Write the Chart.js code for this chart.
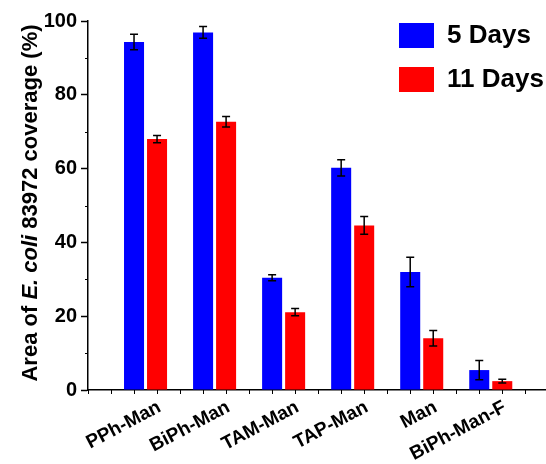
<!DOCTYPE html>
<html>
<head>
<meta charset="utf-8">
<script src="https://cdn.jsdelivr.net/npm/chart.js@4"></script>
<style>
  html, body { margin: 0; padding: 0; background: #fff; }
</style>
</head>
<body>
<canvas id="chart" width="546" height="464"></canvas>
<script>
const categories = ['PPh-Man', 'BiPh-Man', 'TAM-Man', 'TAP-Man', 'Man', 'BiPh-Man-F'];
const fiveDays = [94.3, 96.9, 30.4, 60.2, 32.0, 5.4];
const fiveDaysErr = [2.1, 1.6, 0.8, 2.2, 4.0, 2.6];
const elevenDays = [68.0, 72.7, 21.1, 44.6, 14.0, 2.4];
const elevenDaysErr = [1.0, 1.4, 1.0, 2.4, 2.1, 0.5];
const seriesLabels = ['5 Days', '11 Days'];
const seriesColors = ['#0000ff', '#ff0000'];

const FONT = "'Liberation Sans', Arial, sans-serif";

// error bars drawn on top of each bar
const errorBars = {
    id: 'errorBars',
    afterDatasetsDraw(chart) {
        const ctx = chart.ctx;
        const y = chart.scales.y;
        ctx.save();
        ctx.strokeStyle = '#000';
        ctx.lineWidth = 1.5;
        chart.data.datasets.forEach((ds, i) => {
            const meta = chart.getDatasetMeta(i);
            meta.data.forEach((bar, j) => {
                const v = ds.data[j].y;
                const e = ds.errors[j];
                const top = y.getPixelForValue(v + e);
                const bot = y.getPixelForValue(v - e);
                ctx.beginPath();
                ctx.moveTo(bar.x, top); ctx.lineTo(bar.x, bot);
                ctx.moveTo(bar.x - 4, top); ctx.lineTo(bar.x + 4, top);
                ctx.moveTo(bar.x - 4, bot); ctx.lineTo(bar.x + 4, bot);
                ctx.stroke();
            });
        });
        ctx.restore();
    }
};

// small tick marks on both axes
const minorTicks = {
    id: 'minorTicks',
    afterDraw(chart) {
        const ctx = chart.ctx;
        const x = chart.scales.x, y = chart.scales.y;
        const area = chart.chartArea;
        ctx.save();
        ctx.strokeStyle = '#000';
        ctx.lineWidth = 1;
        ctx.beginPath();
        for (let k = 0; ; k++) {
            const v = (2 * k - 5) / 6;
            if (v > x.max) break;
            const px = Math.round(x.getPixelForValue(v)) + 0.5;
            ctx.moveTo(px, area.bottom); ctx.lineTo(px, area.bottom + 4);
        }
        for (let v = 10; v < 100; v += 20) {
            const py = Math.round(y.getPixelForValue(v)) + 0.5;
            ctx.moveTo(area.left - 3, py); ctx.lineTo(area.left, py);
        }
        ctx.stroke();
        ctx.restore();
    }
};

// y title with italic species name
const yTitle = {
    id: 'yTitle',
    afterDraw(chart) {
        const ctx = chart.ctx;
        const parts = [
            ['Area of ', 'bold 22px ' + FONT],
            ['E. coli', 'italic bold 22px ' + FONT],
            [' 83972 coverage (%)', 'bold 22px ' + FONT]
        ];
        ctx.save();
        let total = 0;
        parts.forEach(p => { ctx.font = p[1]; total += ctx.measureText(p[0]).width; });
        ctx.translate(37, 203);
        ctx.rotate(-Math.PI / 2);
        ctx.fillStyle = '#000';
        ctx.textBaseline = 'alphabetic';
        let cx = -total / 2;
        parts.forEach(p => {
            ctx.font = p[1];
            ctx.fillText(p[0], cx, 0);
            cx += ctx.measureText(p[0]).width;
        });
        ctx.restore();
    }
};

// legend inside the plot, top right
const innerLegend = {
    id: 'innerLegend',
    afterDraw(chart) {
        const ctx = chart.ctx;
        ctx.save();
        ctx.font = 'bold 26px ' + FONT;
        ctx.textBaseline = 'middle';
        chart.data.datasets.forEach((ds, i) => {
            const top = 23 + i * 44;
            ctx.fillStyle = ds.backgroundColor;
            ctx.fillRect(399, top, 35, 25);
            ctx.fillStyle = '#000';
            ctx.fillText(ds.label, 447, top + 13);
        });
        ctx.restore();
    }
};

const isInt = v => Math.abs(v - Math.round(v)) < 1e-6;

new Chart(document.getElementById('chart'), {
    type: 'bar',
    data: {
        datasets: [
            {
                label: seriesLabels[0],
                data: fiveDays.map((v, i) => ({ x: i, y: v })),
                errors: fiveDaysErr,
                backgroundColor: seriesColors[0]
            },
            {
                label: seriesLabels[1],
                data: elevenDays.map((v, i) => ({ x: i, y: v })),
                errors: elevenDaysErr,
                backgroundColor: seriesColors[1]
            }
        ]
    },
    options: {
        responsive: false,
        animation: false,
        categoryPercentage: 2 / 3,
        barPercentage: 0.87,
        layout: { padding: { top: 21, right: 0, left: 0, bottom: 0 } },
        plugins: {
            legend: { display: false },
            tooltip: { enabled: false }
        },
        scales: {
            x: {
                type: 'linear',
                min: -5 / 6,
                max: 5.8,
                offset: false,
                afterBuildTicks: scale => {
                    scale.ticks = categories.map((c, i) => ({ value: i }));
                },
                grid: { drawOnChartArea: false, offset: false, tickLength: 4, tickColor: 'rgba(0,0,0,0)' },
                border: { color: '#000', width: 1.5 },
                ticks: {
                    autoSkip: false,
                    minRotation: 28,
                    maxRotation: 28,
                    padding: 2,
                    labelOffset: 14,
                    color: '#000',
                    font: { family: FONT, size: 19, weight: 'bold' },
                    callback: v => isInt(v) ? categories[Math.round(v)] : ''
                },
                afterFit: scale => { scale.height = 74; }
            },
            y: {
                min: 0,
                max: 100,
                ticks: {
                    stepSize: 20,
                    padding: 4,
                    color: '#000',
                    font: { family: FONT, size: 20, weight: 'bold' }
                },
                grid: { drawOnChartArea: false, tickLength: 7, tickColor: '#000', tickWidth: 1.5 },
                border: { color: '#000', width: 1.5 },
                afterFit: scale => { scale.width = 88; }
            }
        }
    },
    plugins: [errorBars, minorTicks, yTitle, innerLegend]
});
</script>
</body>
</html>
